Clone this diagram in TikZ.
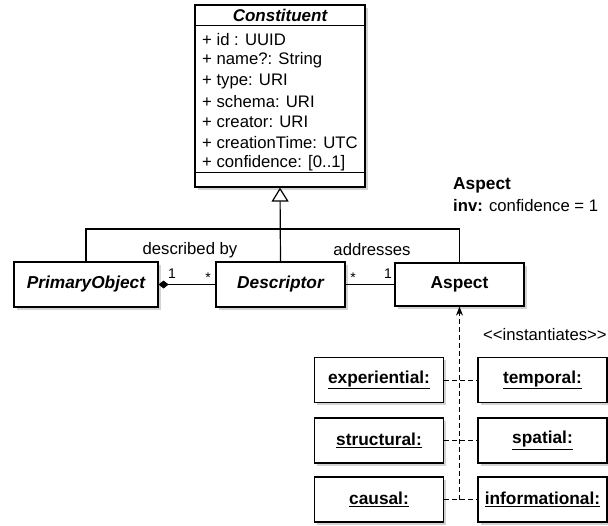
\documentclass[tikz,border=0pt]{standalone}
\usepackage{fontspec}
\setmainfont{Liberation Sans}
\usetikzlibrary{arrows.meta,shadows}
\begin{document}
\begin{tikzpicture}[x=1pt,y=-1pt,
  font=\fontsize{16.7}{19}\selectfont,
  bigb/.style={font=\fontsize{17.3}{20}\selectfont\bfseries},
  bigbi/.style={font=\fontsize{17.3}{20}\selectfont\bfseries\itshape},
  umlbox/.style={draw=black, line width=1.2pt, fill=white, inner sep=0pt,
    minimum width=129pt, minimum height=45pt,
    drop shadow={shadow xshift=2.5pt, shadow yshift=-2.5pt, opacity=0.35}},
  attr/.style={anchor=west, inner sep=0pt},
  conn/.style={line width=1.2pt},
  dep/.style={line width=1pt, dash pattern=on 5pt off 3pt},
  mult/.style={inner sep=0pt, font=\fontsize{14}{16}\selectfont}]
\path[use as bounding box] (0,0) rectangle (608,525);

% Constituent class
\node[umlbox, minimum width=170pt, minimum height=182pt] (con) at (280,96) {};
\draw[line width=1pt] (con.north west |- 0,25) -- (con.north east |- 0,25);
\draw[line width=1pt] (con.north west |- 0,172) -- (con.north east |- 0,172);
\node[inner sep=0pt, font=\fontsize{17}{20}\selectfont\bfseries\itshape] (title) at (280,15) {Constituent};
\node[attr] (a1) at (202,40) {+ id : UUID};
\node[attr] (a2) at (202,60.5) {+ name?: String};
\node[attr] (a3) at (202,81) {+ type: URI};
\node[attr] (a4) at (202,101.5) {+ schema: URI};
\node[attr] (a5) at (202,122) {+ creator: URI};
\node[attr] (a6) at (202,142.5) {+ creationTime: UTC};
\node[attr] (a7) at (202,163) {+ confidence: [0..1]};

% main classes
\node[umlbox, minimum width=144pt, bigbi] (po) at (86,284.5) {PrimaryObject};
\node[umlbox, bigbi] (des) at (280.5,284.5) {Descriptor};
\node[umlbox, minimum height=43pt, bigb] (asp) at (459.5,284.5) {Aspect};

% generalization
\coordinate (hy) at (0,229);
\draw[conn] (po.north) -- (po.north |- hy) -- (asp.north |- hy) -- (asp.north);
\draw[conn, -{Triangle[open, length=14pt, width=17pt, line width=1.2pt]}] (des.north) -- (con.south);

% associations
\draw[conn, {Diamond[length=10pt, width=8pt]}-] (po.east) -- (des.west);
\draw[conn] (des.east) -- (asp.west);
\node[inner sep=0pt] (lbl1) at (190,250) {described by};
\node[inner sep=0pt] (lbl2) at (372,250) {addresses};
\node[mult] (m1) at (172,274) {1};
\node[mult] (m2) at (208,278) {*};
\node[mult] (m3) at (353,278) {*};
\node[mult] (m4) at (388,274) {1};

% constraint
\node[anchor=west, inner sep=0pt, bigb] (ct1) at (453,185) {Aspect};
\node[anchor=west, inner sep=0pt] (ct2) at (453,206) {\textbf{inv:} confidence = 1};

% instances
\node[umlbox, bigb] (exp) at (379,380) {\underline{experiential:}};
\node[umlbox, bigb] (tem) at (542.5,380) {\underline{temporal:}};
\node[umlbox, bigb] (str) at (379,440.5) {\underline{structural:}};
\node[umlbox, bigb] (spa) at (542.5,440.5) {\underline{spatial:}};
\node[umlbox, bigb] (cau) at (379,499.5) {\underline{causal:}};
\node[umlbox, bigb] (inf) at (542.5,499.5) {\underline{informational:}};

\draw[dep] (exp.east) -- (tem.west);
\draw[dep] (str.east) -- (spa.west);
\draw[dep] (cau.east) -- (inf.west);
\draw[dep, -{Stealth[length=9pt, width=7pt]}] (asp.south |- cau.east) -- (asp.south);
\node[anchor=west, inner sep=0pt] (inst) at (483,335) {\textless\kern0pt\textless\kern0pt instantiates\textgreater\kern0pt\textgreater};
\end{tikzpicture}
\end{document}
